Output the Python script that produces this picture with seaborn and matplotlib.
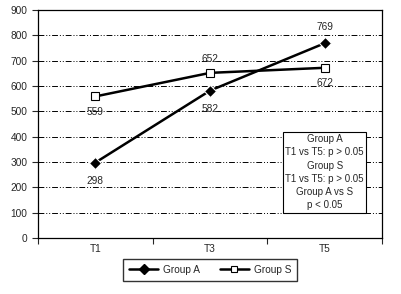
import pandas as pd
import matplotlib.pyplot as plt
import seaborn as sns
from matplotlib.lines import Line2D

times = ['T1', 'T3', 'T5']
group_a = [298, 582, 769]
group_s = [559, 652, 672]

df = pd.DataFrame({
    'x': [0, 1, 2] * 2,
    'value': group_a + group_s,
    'group': ['Group A'] * 3 + ['Group S'] * 3,
})

sns.set_style('white')
plt.rcParams['font.family'] = ['Liberation Sans', 'DejaVu Sans']

fig = plt.figure(figsize=(4.02, 2.94), dpi=100)
ax = fig.add_axes([0.0945, 0.19, 0.856, 0.776])

sns.lineplot(data=df, x='x', y='value', hue='group', style='group',
             palette=['black', 'black'], markers={'Group A': 'D', 'Group S': 's'},
             dashes=False, linewidth=1.8, markersize=6, ax=ax, legend=False)
ax.lines[0].set_markerfacecolor('black')
ax.lines[1].set_markerfacecolor('white')
ax.lines[1].set_markeredgecolor('black')
ax.lines[1].set_markeredgewidth(0.8)

# data labels
for i, v in enumerate(group_a):
    off = 12 if i == 2 else -13
    ax.annotate(str(v), (i, v), xytext=(0, off), textcoords='offset points',
                ha='center', va='center', fontsize=7.3)
for i, v in enumerate(group_s):
    off = 10 if i == 1 else -11
    ax.annotate(str(v), (i, v), xytext=(0, off), textcoords='offset points',
                ha='center', va='center', fontsize=7.3)

ax.set_xlim(-0.5, 2.5)
ax.set_ylim(0, 900)
ax.set_yticks(range(0, 901, 100))
ax.set_xticks([-0.5, 0.5, 1.5, 2.5])
ax.set_xticklabels([])
ax.set_xticks([0, 1, 2], minor=True)
ax.set_xticklabels(times, minor=True)
ax.tick_params(axis='x', which='major', length=4, width=0.8, direction='out', bottom=True)
ax.tick_params(axis='x', which='minor', length=0, pad=4, labelsize=7.3)
ax.tick_params(axis='y', length=4, width=0.8, direction='out', left=True, labelsize=7.3)
ax.set_xlabel('')
ax.set_ylabel('')

for y in range(100, 900, 100):
    ax.axhline(y, color='black', linewidth=0.7, dashes=[6, 2, 1, 2, 1, 2], zorder=0)

for s in ax.spines.values():
    s.set_color('black')
    s.set_linewidth(0.9)

ax.text(2.0, 260, 'Group A\nT1 vs T5: p > 0.05\nGroup S\nT1 vs T5: p > 0.05\nGroup A vs S\np < 0.05',
        ha='center', va='center', fontsize=7, linespacing=1.4,
        bbox=dict(boxstyle='square,pad=0.25', facecolor='white', edgecolor='black', linewidth=0.8))

handles = [
    Line2D([], [], color='black', marker='D', markerfacecolor='black', markersize=5, linewidth=1.8),
    Line2D([], [], color='black', marker='s', markerfacecolor='white', markersize=5, linewidth=1.8, markeredgewidth=0.8),
]
fig.legend(handles, ['Group A', 'Group S'], loc='center', bbox_to_anchor=(0.523, 0.083),
           ncol=2, fontsize=7.3, frameon=True, fancybox=False, edgecolor='black',
           handlelength=2.8, handletextpad=0.5, columnspacing=2.0, borderpad=0.6)

plt.savefig('out.png', dpi=100)
